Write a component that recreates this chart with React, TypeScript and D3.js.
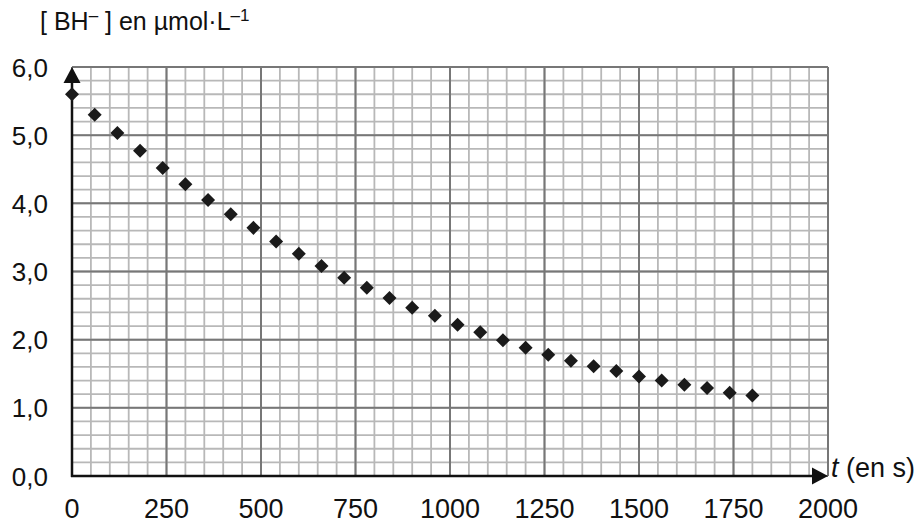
import React from 'react'
import * as d3 from 'd3'

// time in seconds, one measure every 60 s
const times = [
  0, 60, 120, 180, 240, 300, 360, 420, 480, 540, 600, 660, 720, 780, 840, 900, 960, 1020, 1080, 1140,
  1200, 1260, 1320, 1380, 1440, 1500, 1560, 1620, 1680, 1740, 1800
]
// [BH-] in µmol/L
const concentrations = [
  5.6, 5.3, 5.03, 4.77, 4.52, 4.28, 4.05, 3.84, 3.64, 3.44, 3.26, 3.08, 2.91, 2.76, 2.61, 2.47, 2.35,
  2.22, 2.11, 1.99, 1.88, 1.78, 1.69, 1.61, 1.54, 1.46, 1.4, 1.34, 1.29, 1.22, 1.18
]

const xTicks = [0, 250, 500, 750, 1000, 1250, 1500, 1750, 2000]
const yTicks = [0, 1, 2, 3, 4, 5, 6]
const yTickLabels = ['0,0', '1,0', '2,0', '3,0', '4,0', '5,0', '6,0']

const width = 920
const height = 524
const font = '"Liberation Sans", Arial, sans-serif'

export default function App() {
  const x = d3.scaleLinear().domain([0, 2000]).range([72, 828])
  const y = d3.scaleLinear().domain([0, 6]).range([476, 67])

  const minorX = d3.range(0, 2001, 50)
  const minorY = d3.range(0, 31).map((i) => i * 0.2)

  const diamond = d3.symbol().type(d3.symbolDiamond2).size(125)

  const points = times.map((t, i) => ({ t, c: concentrations[i] }))

  return (
    <svg
      width={width}
      height={height}
      style={{ position: 'absolute', left: 0, top: 0, background: '#fff' }}
      fontFamily={font}
    >
      <g>
        {minorX.map((v) => (
          <line key={'mx' + v} x1={x(v)} x2={x(v)} y1={y(0)} y2={y(6)} stroke="#b8b8b8" strokeWidth={1.8} />
        ))}
        {minorY.map((v) => (
          <line key={'my' + v} x1={x(0)} x2={x(2000)} y1={y(v)} y2={y(v)} stroke="#b8b8b8" strokeWidth={1.8} />
        ))}
        {xTicks.map((v) => (
          <line key={'Mx' + v} x1={x(v)} x2={x(v)} y1={y(0)} y2={y(6)} stroke="#777" strokeWidth={2} />
        ))}
        {yTicks.map((v) => (
          <line key={'My' + v} x1={x(0)} x2={x(2000)} y1={y(v)} y2={y(v)} stroke="#777" strokeWidth={2} />
        ))}
      </g>

      {/* axes with arrows */}
      <line x1={x(0)} x2={x(0)} y1={y(0) + 1} y2={y(6) + 12} stroke="#111" strokeWidth={2.5} />
      <path d={`M${x(0) - 8.5},${y(6) + 16} L${x(0)},${y(6)} L${x(0) + 8.5},${y(6) + 16} Z`} fill="#111" />
      <line x1={x(0) - 1} x2={x(2000) - 12} y1={y(0)} y2={y(0)} stroke="#111" strokeWidth={2.5} />
      <path d={`M${x(2000) - 16},${y(0) - 8.5} L${x(2000)},${y(0)} L${x(2000) - 16},${y(0) + 8.5} Z`} fill="#111" />

      {points.map((d) => (
        <path key={d.t} d={diamond() ?? ''} transform={`translate(${x(d.t)},${y(d.c)})`} fill="#1a1a1a" />
      ))}

      <g fill="#111">
        {xTicks.map((v) => (
          <text key={'xl' + v} x={x(v)} y={518} textAnchor="middle" fontSize={27}>
            {v}
          </text>
        ))}
        {yTicks.map((v, i) => (
          <text key={'yl' + v} x={48} y={y(v) + 9.5} textAnchor="end" fontSize={26}>
            {yTickLabels[i]}
          </text>
        ))}
        <text x={40} y={30} fontSize={25}>
          [ BH<tspan dy={-9} fontSize={17}>–</tspan>
          <tspan dy={9}> ] en µmol·L</tspan>
          <tspan dy={-9} fontSize={17}>–1</tspan>
        </text>
        <text x={831} y={477} fontSize={27}>
          <tspan fontStyle="italic">t</tspan> (en s)
        </text>
      </g>
    </svg>
  )
}
